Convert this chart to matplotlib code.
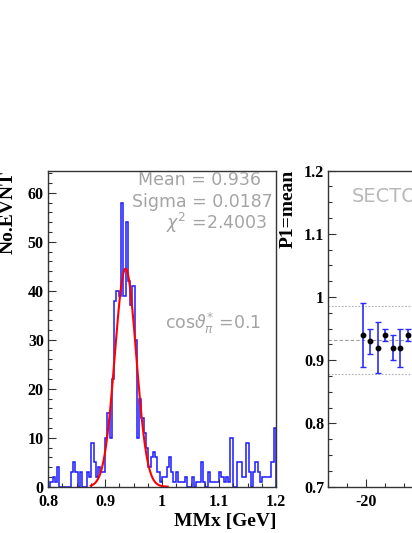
import numpy as np
import matplotlib
matplotlib.use("Agg")
import matplotlib.pyplot as plt
from matplotlib.ticker import MultipleLocator

# ---------------- data ----------------
hist_lo, hist_hi, n_bins = 0.8, 1.2, 100
counts = [0, 1, 2, 1, 4, 0, 0, 0, 0, 0,
          3, 5, 3, 0, 3, 0, 0, 3, 2, 9,
          5, 2, 4, 3, 3, 10, 15, 10, 22, 38,
          40, 39, 58, 39, 54, 42, 37, 41, 30, 10,
          18, 14, 11, 8, 4, 6, 7, 6, 3, 1,
          2, 2, 4, 6, 3, 1, 3, 1, 1, 1,
          2, 0, 0, 2, 0, 1, 1, 5, 1, 0,
          3, 1, 1, 1, 1, 3, 2, 1, 2, 1,
          10, 0, 0, 5, 5, 2, 2, 9, 3, 0,
          3, 5, 3, 1, 2, 2, 2, 2, 5, 12]

fit_amp, fit_mean, fit_sigma, fit_chi2 = 44.5, 0.936, 0.0187, 2.4003
fit_range = (0.875, 1.01)
cos_theta = 0.1

bin_centers_r = [-21, -19, -17, -15, -13, -11, -9]
p1_mean = [0.94, 0.93, 0.92, 0.94, 0.92, 0.92, 0.94]
p1_err = [0.05, 0.02, 0.04, 0.01, 0.02, 0.03, 0.01]
avg_line = 0.932
band_lines = [0.986, 0.878]

# ---------------- figure ----------------
W, H = 412, 533
fig = plt.figure(figsize=(W / 100, H / 100), dpi=100)
fig.patch.set_facecolor("white")

def px_axes(x0, x1, ytop, ybot):
    return fig.add_axes([x0 / W, (H - ybot) / H, (x1 - x0) / W, (ybot - ytop) / H])

serif_bold = dict(family="Liberation Serif", weight="bold")
frame_col = "#333333"
txt_gray = "#a4a4a4"

def style(ax):
    for s in ax.spines.values():
        s.set_color(frame_col)
        s.set_linewidth(1.0)
    ax.tick_params(which="both", direction="in", colors=frame_col,
                   top=False, right=False, labelsize=11.5)
    ax.tick_params(axis="y", pad=3)
    ax.tick_params(axis="x", pad=5)
    ax.tick_params(which="major", length=6, width=0.8)
    ax.tick_params(which="minor", length=3, width=0.8)
    for lab in ax.get_xticklabels() + ax.get_yticklabels():
        lab.set_fontfamily("Liberation Serif")
        lab.set_fontweight("bold")
        lab.set_color("black")

# ---- left panel: histogram ----
ax1 = px_axes(48, 276, 170.7, 486.7)
edges = np.linspace(hist_lo, hist_hi, n_bins + 1)
ax1.stairs(counts, edges, baseline=0, color="#1a1aff", linewidth=1.1)
xf = np.linspace(fit_range[0], fit_range[1], 300)
ax1.plot(xf, fit_amp * np.exp(-0.5 * ((xf - fit_mean) / fit_sigma) ** 2),
         color="red", linewidth=1.5)
ax1.set_xlim(hist_lo, hist_hi)
ax1.set_ylim(0, 64.5)
ax1.xaxis.set_major_locator(MultipleLocator(0.1))
ax1.xaxis.set_minor_locator(MultipleLocator(0.025))
ax1.yaxis.set_major_locator(MultipleLocator(10))
ax1.yaxis.set_minor_locator(MultipleLocator(2))
ax1.set_xticks([0.8, 0.9, 1.0, 1.1, 1.2])
ax1.set_xticklabels(["0.8", "0.9", "1", "1.1", "1.2"])
style(ax1)

ax1.text(0.935, 0.955, f"Mean = {fit_mean:.3f}", transform=ax1.transAxes,
         ha="right", va="baseline", fontsize=12.5, color=txt_gray, family="DejaVu Sans")
ax1.text(0.985, 0.885, f"Sigma = {fit_sigma:.4f}", transform=ax1.transAxes,
         ha="right", va="baseline", fontsize=12.5, color=txt_gray, family="DejaVu Sans")
ax1.text(0.965, 0.815, r"$\chi^{2}$ =" + f"{fit_chi2:.4f}", transform=ax1.transAxes,
         ha="right", va="baseline", fontsize=12.5, color=txt_gray, family="DejaVu Sans")
ax1.text(0.935, 0.500, r"cos$\vartheta_{\pi}^{*}$ =" + f"{cos_theta}", transform=ax1.transAxes,
         ha="right", va="baseline", fontsize=12.5, color=txt_gray, family="DejaVu Sans")

fig.text(8.5 / W, (H - 171) / H, "No.EVNT", rotation=90, ha="center", va="top",
         fontsize=14, **serif_bold)
fig.text(276 / W, (H - 526) / H, "MMx [GeV]", ha="right", va="baseline",
         fontsize=14, **serif_bold)

# ---- right panel: P1 = mean ----
ax2 = px_axes(328.3, 556.3, 170.7, 486.7)
ax2.set_xlim(-30, 30)
ax2.set_ylim(0.7, 1.2)
ax2.axhline(avg_line, color="#9a9a9a", linewidth=0.8, linestyle=(0, (3, 2)))
for v in band_lines:
    ax2.axhline(v, color="#b0b0b0", linewidth=0.8, linestyle=(0, (1.5, 1.5)))
ax2.errorbar(bin_centers_r, p1_mean, yerr=p1_err, fmt="o", color="black",
             markersize=3.2, ecolor="#2b2bff", elinewidth=1.2, capsize=2.5,
             capthick=1.0)
ax2.xaxis.set_major_locator(MultipleLocator(20))
ax2.xaxis.set_minor_locator(MultipleLocator(5))
ax2.set_xticks([-20])
ax2.set_xticklabels(["-20"])
ax2.yaxis.set_major_locator(MultipleLocator(0.1))
ax2.yaxis.set_minor_locator(MultipleLocator(0.025))
ax2.set_yticks([0.7, 0.8, 0.9, 1.0, 1.1, 1.2])
ax2.set_yticklabels(["0.7", "0.8", "0.9", "1", "1.1", "1.2"])
style(ax2)
ax2.text(0.103, 0.9, "SECTOR", transform=ax2.transAxes, ha="left", va="baseline",
         fontsize=14, color="#b8b8b8", family="DejaVu Sans")

fig.text(288 / W, (H - 170) / H, "P1=mean", rotation=90, ha="center", va="top",
         fontsize=14, **serif_bold)

fig.savefig("out.png", dpi=100)
